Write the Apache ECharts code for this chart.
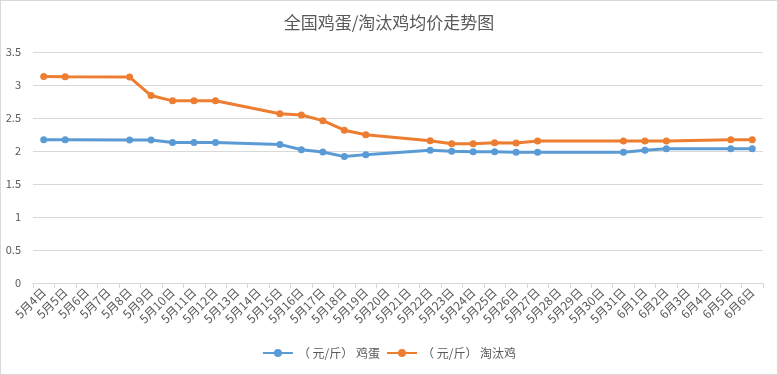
<!DOCTYPE html>
<html>
<head>
<meta charset="utf-8">
<script src="https://cdn.jsdelivr.net/npm/echarts@6/dist/echarts.min.js"></script>
<style>
  html, body { margin: 0; padding: 0; background: #fff; }
  #chart { width: 776px; height: 373px; border: 1px solid #d9d9d9; }
</style>
</head>
<body>
<div id="chart"></div>
<script>
  // categories 5/4 .. 6/6
  const days = [];
  for (let d = 4; d <= 31; d++) days.push("5月" + d + "日");
  for (let d = 1; d <= 6; d++) days.push("6月" + d + "日");

  const eggPrice = [
    2.17, 2.17, null, null, 2.165, 2.165, 2.13, 2.13, 2.13, null, null,
    2.10, 2.02, 1.985, 1.915, 1.945, null, null, 2.01, 1.995, 1.99, 1.99,
    1.98, 1.98, null, null, null, 1.98, 2.01, 2.035, null, null, 2.035, 2.035
  ];
  const henPrice = [
    3.13, 3.125, null, null, 3.12, 2.84, 2.76, 2.76, 2.76, null, null,
    2.565, 2.545, 2.46, 2.315, 2.245, null, null, 2.155, 2.11, 2.11, 2.125,
    2.12, 2.15, null, null, null, 2.15, 2.15, 2.15, null, null, 2.17, 2.17
  ];
  const seriesNames = ["（ 元/斤） 鸡蛋", "（ 元/斤） 淘汰鸡"];
  const colors = ["#5b9bd5", "#ed7d31"];

  const chart = echarts.init(document.getElementById("chart"));
  const font = "'Noto Sans CJK SC', 'Microsoft YaHei', sans-serif";

  function lineSeries(name, data, color) {
    return {
      name: name,
      type: "line",
      data: data,
      connectNulls: true,
      symbol: "circle",
      symbolSize: 7,
      color: color,
      lineStyle: { width: 3, color: color },
      itemStyle: { color: color }
    };
  }

  chart.setOption({
    animation: false,
    textStyle: { fontFamily: font },
    title: {
      text: "全国鸡蛋/淘汰鸡均价走势图",
      left: "center",
      top: 8,
      textStyle: { fontSize: 17, fontWeight: "normal", color: "#595959", fontFamily: font }
    },
    grid: { left: 32, right: 14, top: 51, bottom: 91 },
    legend: {
      bottom: 10,
      left: "center",
      itemWidth: 30,
      itemHeight: 10,
      itemGap: 6,
      textStyle: { fontSize: 12, color: "#595959" },
      data: seriesNames
    },
    xAxis: {
      type: "category",
      data: days,
      boundaryGap: true,
      axisLine: { lineStyle: { color: "#d9d9d9" } },
      axisTick: { show: true, length: 5, lineStyle: { color: "#d9d9d9" } },
      axisLabel: { rotate: 45, interval: 0, fontSize: 12, color: "#595959", margin: 7 }
    },
    yAxis: {
      type: "value",
      min: 0,
      max: 3.5,
      interval: 0.5,
      axisLine: { show: false },
      axisTick: { show: false },
      axisLabel: { fontSize: 11, color: "#595959", margin: 12 },
      splitLine: { lineStyle: { color: "#d9d9d9" } }
    },
    series: [
      lineSeries(seriesNames[0], eggPrice, colors[0]),
      lineSeries(seriesNames[1], henPrice, colors[1])
    ]
  });
</script>
</body>
</html>
